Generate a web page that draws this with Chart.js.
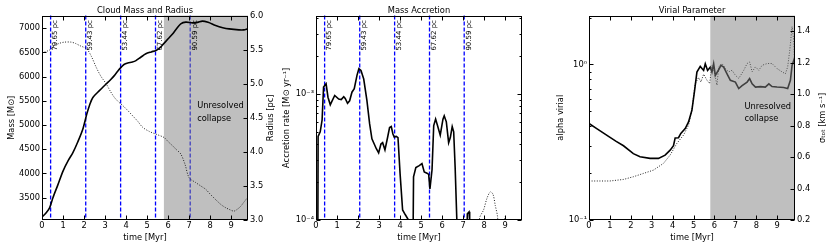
<!DOCTYPE html>
<html>
<head>
<meta charset="utf-8">
<script src="https://cdn.jsdelivr.net/npm/chart.js@4.4.0/dist/chart.umd.min.js"></script>
<style>
  body { margin: 0; background: #fff; width: 830px; height: 249px; overflow: hidden; position: relative; }
  canvas { position: absolute; top: 0; }
</style>
</head>
<body>
<canvas id="mass" width="280" height="249" style="left:0"></canvas>
<canvas id="accr" width="270" height="249" style="left:280px"></canvas>
<canvas id="vir" width="280" height="249" style="left:550px"></canvas>
<script>
// radius markers and the unresolved region
const markTimes = [0.41, 2.08, 3.74, 5.40, 7.05];
const markLabels = ['79.65 pc', '59.43 pc', '53.44 pc', '67.62 pc', '90.59 pc'];
const unresolvedFrom = 5.8;

// cloud mass [Msun] and radius [pc]
const massTime = [0, 0.2, 0.36, 0.52, 0.75, 1.0, 1.25, 1.47, 1.7, 1.94, 2.13, 2.27, 2.42, 2.73, 3.05, 3.25, 3.44, 3.6, 3.76, 3.9,
  4.08, 4.3, 4.47, 4.7, 4.94, 5.2, 5.42, 5.6, 5.78, 6.0, 6.21, 6.4, 6.6, 6.84, 7.16, 7.4, 7.63, 7.9, 8.26, 8.6, 8.9, 9.37, 9.6, 9.78];
const massValue = [3100, 3190, 3290, 3500, 3760, 4050, 4270, 4430, 4650, 4915, 5225, 5420, 5570, 5710, 5847, 5930, 6020, 6110, 6190, 6250,
  6280, 6300, 6330, 6400, 6470, 6510, 6540, 6590, 6675, 6780, 6880, 6990, 7090, 7125, 7110, 7120, 7145, 7120, 7055, 7010, 6985, 6965, 6965, 6985];
const massTicks = [3500, 4000, 4500, 5000, 5500, 6000, 6500, 7000];
const radiusTime = [0, 0.36, 0.6, 0.85, 1.07, 1.39, 1.6, 1.79, 2.13, 2.35, 2.58, 2.8, 3.05, 3.25, 3.44, 3.65, 3.84, 4.1, 4.31, 4.55,
  4.79, 5.1, 5.42, 5.81, 6.0, 6.21, 6.4, 6.6, 6.8, 7.0, 7.31, 7.55, 7.79, 8.0, 8.26, 8.5, 8.74, 8.95, 9.13, 9.3, 9.45, 9.6, 9.78];
const radiusValue = [5.45, 5.495, 5.56, 5.595, 5.61, 5.61, 5.59, 5.56, 5.51, 5.40, 5.24, 5.11, 5.0, 4.89, 4.80, 4.73, 4.68, 4.60, 4.53, 4.45,
  4.36, 4.30, 4.26, 4.21, 4.15, 4.09, 4.03, 3.97, 3.82, 3.62, 3.55, 3.50, 3.45, 3.38, 3.30, 3.23, 3.18, 3.15, 3.13, 3.16, 3.20, 3.26, 3.33];

// accretion rate [Msun/yr]
const accTime = [0.08, 0.1, 0.2, 0.29, 0.36, 0.48, 0.57, 0.68, 0.89, 1.08, 1.2, 1.32, 1.39, 1.5, 1.6, 1.71, 1.82, 1.95, 2.04, 2.14,
  2.27, 2.42, 2.55, 2.66, 2.77, 2.87, 2.98, 3.09, 3.17, 3.28, 3.41, 3.5, 3.58, 3.66, 3.72, 3.82, 3.9, 4.0, 4.12, 4.25,
  4.4, 4.5, 4.6, 4.64, 4.75, 4.91, 5.04, 5.15, 5.28, 5.36, 5.42, 5.52, 5.6, 5.69, 5.78, 5.91, 6.04, 6.1, 6.2, 6.31,
  6.39, 6.48, 6.55, 6.62, 6.7, 6.75, 7.15, 7.2, 7.28, 7.31, 7.35];
const accRate = [3e-5, 4.6e-4, 5.0e-4, 6.2e-4, 1.13e-3, 1.2e-3, 9.4e-4, 8.2e-4, 9.7e-4, 9.1e-4, 9.0e-4, 9.5e-4, 9.2e-4, 8.4e-4, 8.8e-4, 1.03e-3, 1.1e-3, 1.4e-3, 1.58e-3, 1.53e-3,
  1.31e-3, 8.9e-4, 5.8e-4, 4.4e-4, 4.0e-4, 3.67e-4, 3.4e-4, 4.0e-4, 4.1e-4, 3.6e-4, 4.55e-4, 5.4e-4, 5.5e-4, 4.8e-4, 4.55e-4, 4.6e-4, 4.5e-4, 2.33e-4, 1.2e-4, 1.1e-4,
  1.0e-4, 3e-5, 3e-5, 2.2e-4, 2.6e-4, 2.7e-4, 2.8e-4, 2.4e-4, 2.35e-4, 2.3e-4, 1.76e-4, 2.5e-4, 5.6e-4, 6.3e-4, 5.6e-4, 4.7e-4, 6.3e-4, 6.7e-4, 6.0e-4, 4.1e-4,
  4.5e-4, 5.5e-4, 5.0e-4, 2.6e-4, 1.0e-4, 3e-5, 3e-5, 1.12e-4, 1.16e-4, 1.0e-4, 3e-5];
const accLateTime = [7.7, 7.78, 7.97, 8.13, 8.29, 8.42, 8.53, 8.64, 8.72, 8.9, 9.0, 9.1];
const accLateRate = [5e-5, 1.03e-4, 1.2e-4, 1.48e-4, 1.67e-4, 1.6e-4, 1.3e-4, 1.05e-4, 5e-5, 5e-5, 1.07e-4, 5e-5];
const accTicks = [1e-4, 2e-4, 3e-4, 4e-4, 5e-4, 6e-4, 7e-4, 8e-4, 9e-4, 1e-3, 2e-3, 3e-3, 4e-3];
const accTickLabels = ['10⁻⁴', '', '', '', '', '', '', '', '', '10⁻³', '', '', ''];

// virial parameter and sigma_tot [km/s]
const alphaTime = [0, 0.37, 0.97, 1.3, 1.65, 2.12, 2.44, 2.92, 3.32, 3.64, 3.88, 4.04, 4.12, 4.28, 4.39, 4.6, 4.76, 4.92, 5.05, 5.16,
  5.32, 5.48, 5.56, 5.67, 5.8, 5.88, 5.96, 6.04, 6.2, 6.31, 6.44, 6.6, 6.76, 7.0, 7.16, 7.32, 7.56, 7.68, 7.8, 7.96,
  8.2, 8.43, 8.6, 8.75, 8.99, 9.31, 9.5, 9.63, 9.71, 9.84];
const alphaValue = [0.417, 0.387, 0.342, 0.32, 0.30, 0.267, 0.255, 0.249, 0.249, 0.261, 0.281, 0.30, 0.337, 0.338, 0.36, 0.387, 0.427, 0.507, 0.68, 0.893,
  0.97, 0.915, 1.01, 0.915, 0.96, 0.893, 1.01, 0.85, 0.924, 0.985, 0.96, 0.87, 0.79, 0.77, 0.70, 0.73, 0.77, 0.81, 0.75, 0.715,
  0.72, 0.715, 0.75, 0.72, 0.715, 0.71, 0.70, 0.79, 0.985, 1.11];
const sigmaTime = [0, 1.0, 1.65, 2.12, 2.6, 3.08, 3.56, 3.88, 4.2, 4.52, 4.76, 4.92, 5.08, 5.24, 5.35, 5.48, 5.64, 5.77, 5.88, 5.99,
  6.12, 6.2, 6.36, 6.52, 6.68, 6.84, 7.0, 7.16, 7.4, 7.56, 7.68, 7.8, 7.96, 8.12, 8.28, 8.52, 8.75, 8.99, 9.23, 9.39,
  9.5, 9.6, 9.71, 9.79, 9.84];
const sigmaValue = [0.448, 0.448, 0.458, 0.475, 0.496, 0.517, 0.56, 0.613, 0.687, 0.74, 0.803, 0.90, 1.068, 1.106, 1.078, 1.127, 1.089, 1.068, 1.184, 1.142,
  1.057, 1.174, 1.195, 1.163, 1.142, 1.152, 1.12, 1.10, 1.152, 1.195, 1.205, 1.142, 1.174, 1.152, 1.184, 1.195, 1.195, 1.163, 1.142, 1.13,
  1.174, 1.28, 1.43, 1.343, 1.17];
const alphaTicks = [0.1, 0.2, 0.3, 0.4, 0.5, 0.6, 0.7, 0.8, 0.9, 1, 2];
const alphaTickLabels = ['10⁻¹', '', '', '', '', '', '', '', '', '10⁰', ''];

Chart.defaults.font.family = "'DejaVu Sans', sans-serif";
Chart.defaults.font.size = 8.3;
Chart.defaults.color = '#000';

const pts = (xs, ys) => xs.map((x, i) => ({ x, y: ys[i] }));

function shade(chart) {
  const { ctx, chartArea: a, scales: { x } } = chart;
  const x0 = x.getPixelForValue(unresolvedFrom);
  ctx.save();
  ctx.fillStyle = 'rgba(128,128,128,0.5)';
  ctx.fillRect(x0, a.top, a.right - x0, a.bottom - a.top);
  ctx.restore();
}

// dashed markers, shading, notes, frame and inward ticks
const decor = {
  id: 'decor',
  beforeDatasetsDraw(chart, args, o) {
    const { ctx, chartArea: a, scales: { x } } = chart;
    if (o.marks) {
      ctx.save();
      ctx.strokeStyle = '#0000ff';
      ctx.lineWidth = 1.3;
      ctx.setLineDash([4, 2]);
      markTimes.forEach(t => {
        const px = x.getPixelForValue(t);
        ctx.beginPath();
        ctx.moveTo(px, a.top);
        ctx.lineTo(px, a.bottom);
        ctx.stroke();
      });
      ctx.restore();
    }
    if (o.shade && !o.shadeOnTop) shade(chart);
  },
  afterDatasetsDraw(chart, args, o) {
    const { ctx, chartArea: a, scales: { x } } = chart;
    if (o.shade && o.shadeOnTop) shade(chart);
    ctx.save();
    ctx.fillStyle = '#000';
    if (o.marks) {
      ctx.font = "7px 'DejaVu Sans'";
      markTimes.forEach((t, i) => {
        ctx.save();
        ctx.translate(x.getPixelForValue(t) + 1, a.top + 4.5);
        ctx.rotate(-Math.PI / 2);
        ctx.textAlign = 'right';
        ctx.textBaseline = 'top';
        ctx.fillText(markLabels[i], 0, 0);
        ctx.restore();
      });
    }
    ctx.font = "8.3px 'DejaVu Sans'";
    ctx.textAlign = 'left';
    ctx.textBaseline = 'middle';
    (o.notes || []).forEach(n => ctx.fillText(n.text, x.getPixelForValue(n.t), n.y));
    if (o.rightTitle) {
      ctx.save();
      ctx.translate(o.rightTitle.x, (a.top + a.bottom) / 2);
      ctx.rotate(-Math.PI / 2);
      ctx.textAlign = 'center';
      ctx.fillText(o.rightTitle.text, 0, 0);
      ctx.restore();
    }
    const L = Math.round(a.left) + 0.5, R = Math.round(a.right) - 0.5;
    const T = Math.round(a.top) + 0.5, B = Math.round(a.bottom) - 0.5;
    ctx.strokeStyle = '#000';
    ctx.lineWidth = 1;
    ctx.strokeRect(L, T, R - L, B - T);
    ctx.beginPath();
    Object.entries(o.tickSides).forEach(([id, sides]) => {
      const s = chart.scales[id];
      s.ticks.forEach(tk => {
        const len = tk.label === '' ? 2 : 4;
        const p = Math.round(s.getPixelForValue(tk.value)) + 0.5;
        if (s.isHorizontal()) {
          ctx.moveTo(p, B); ctx.lineTo(p, B - len);
          ctx.moveTo(p, T); ctx.lineTo(p, T + len);
        } else {
          sides.forEach(side => {
            const e = side === 'left' ? L : R;
            ctx.moveTo(e, p);
            ctx.lineTo(side === 'left' ? e + len : e - len, p);
          });
        }
      });
    });
    ctx.stroke();
    ctx.restore();
  }
};

const timeAxis = (max) => ({
  type: 'linear', min: 0, max,
  ticks: { stepSize: 1, includeBounds: false, padding: 1, maxRotation: 0 },
  grid: { display: false, drawTicks: false },
  border: { display: false },
  title: { display: true, text: 'time [Myr]', padding: { top: 0, bottom: 6.5 } },
  afterFit: s => { s.height = 29; }
});

const sideAxis = (position, width, extra) => Object.assign({
  position,
  grid: { display: false, drawTicks: false },
  border: { display: false },
  afterFit: s => { s.width = width; }
}, extra);

const titleOpts = (text) => ({
  display: true, text, fullSize: false,
  font: { weight: 'normal', size: 8.3 },
  padding: { top: 5.6, bottom: 0 }
});

const solid = { borderColor: '#000', borderWidth: 1.6, pointRadius: 0, clip: 0 };
const dotted = { borderColor: '#222', borderWidth: 1, borderDash: [1, 1.6], pointRadius: 0, clip: 0 };

new Chart(document.getElementById('mass'), {
  type: 'line',
  data: {
    datasets: [
      Object.assign({ data: pts(massTime, massValue), yAxisID: 'y', tension: 0.3 }, solid),
      Object.assign({ data: pts(radiusTime, radiusValue), yAxisID: 'y2', tension: 0.3 }, dotted)
    ]
  },
  options: {
    responsive: false, animation: false,
    plugins: {
      legend: { display: false }, tooltip: { enabled: false },
      title: titleOpts('Cloud Mass and Radius'),
      decor: {
        marks: true, shade: true, shadeOnTop: false,
        notes: [{ text: 'Unresolved', t: 7.38, y: 106 }, { text: 'collapse', t: 7.38, y: 119 }],
        rightTitle: { text: 'Radius [pc]', x: 270.7 },
        tickSides: { x: [], y: ['left'], y2: ['right'] }
      }
    },
    scales: {
      x: timeAxis(9.8),
      y: sideAxis('left', 42, {
        type: 'linear', min: 3040, max: 7260,
        afterBuildTicks: s => { s.ticks = massTicks.map(v => ({ value: v })); },
        ticks: { autoSkip: false, padding: 2, callback: v => String(v) },
        title: { display: true, text: 'Mass [M⊙]', padding: { top: 7, bottom: 0 } }
      }),
      y2: sideAxis('right', 32, {
        type: 'linear', min: 3, max: 6,
        ticks: { stepSize: 0.5, padding: 2, callback: v => v.toFixed(1) }
      })
    }
  },
  plugins: [decor]
});

new Chart(document.getElementById('accr'), {
  type: 'line',
  data: {
    datasets: [
      Object.assign({ data: pts(accTime, accRate), yAxisID: 'y', tension: 0 }, solid),
      Object.assign({ data: pts(accLateTime, accLateRate), yAxisID: 'y', tension: 0.3 }, dotted)
    ]
  },
  options: {
    responsive: false, animation: false,
    layout: { padding: { right: 28 } },
    plugins: {
      legend: { display: false }, tooltip: { enabled: false },
      title: titleOpts('Mass Accretion'),
      decor: { marks: true, shade: false, tickSides: { x: [], y: ['left', 'right'] } }
    },
    scales: {
      x: timeAxis(9.8),
      y: sideAxis('left', 36, {
        type: 'logarithmic', min: 1e-4, max: 4.17e-3,
        afterBuildTicks: s => { s.ticks = accTicks.map(v => ({ value: v })); },
        ticks: { autoSkip: false, padding: 2, callback: (v, i) => accTickLabels[i] },
        title: { display: true, text: 'Accretion rate [M⊙ yr⁻¹]', padding: { top: 2, bottom: 0 } }
      })
    }
  },
  plugins: [decor]
});

new Chart(document.getElementById('vir'), {
  type: 'line',
  data: {
    datasets: [
      Object.assign({ data: pts(alphaTime, alphaValue), yAxisID: 'y', tension: 0 }, solid),
      Object.assign({ data: pts(sigmaTime, sigmaValue), yAxisID: 'y2', tension: 0 }, dotted)
    ]
  },
  options: {
    responsive: false, animation: false,
    plugins: {
      legend: { display: false }, tooltip: { enabled: false },
      title: titleOpts('Virial Parameter'),
      decor: {
        marks: false, shade: true, shadeOnTop: true,
        notes: [{ text: 'Unresolved', t: 7.43, y: 107 }, { text: 'collapse', t: 7.43, y: 119 }],
        rightTitle: { text: 'σₜₒₜ [km s⁻¹]', x: 273.3 },
        tickSides: { x: [], y: ['left'], y2: ['right'] }
      }
    },
    scales: {
      x: timeAxis(9.85),
      y: sideAxis('left', 39, {
        type: 'logarithmic', min: 0.1, max: 2.06,
        afterBuildTicks: s => { s.ticks = alphaTicks.map(v => ({ value: v })); },
        ticks: { autoSkip: false, padding: 2, callback: (v, i) => alphaTickLabels[i] },
        title: { display: true, text: 'alpha virial', padding: { top: 6.3, bottom: 0 } }
      }),
      y2: sideAxis('right', 35, {
        type: 'linear', min: 0.2, max: 1.5,
        ticks: { stepSize: 0.2, includeBounds: false, padding: 2, callback: v => v.toFixed(1) }
      })
    }
  },
  plugins: [decor]
});
</script>
</body>
</html>
